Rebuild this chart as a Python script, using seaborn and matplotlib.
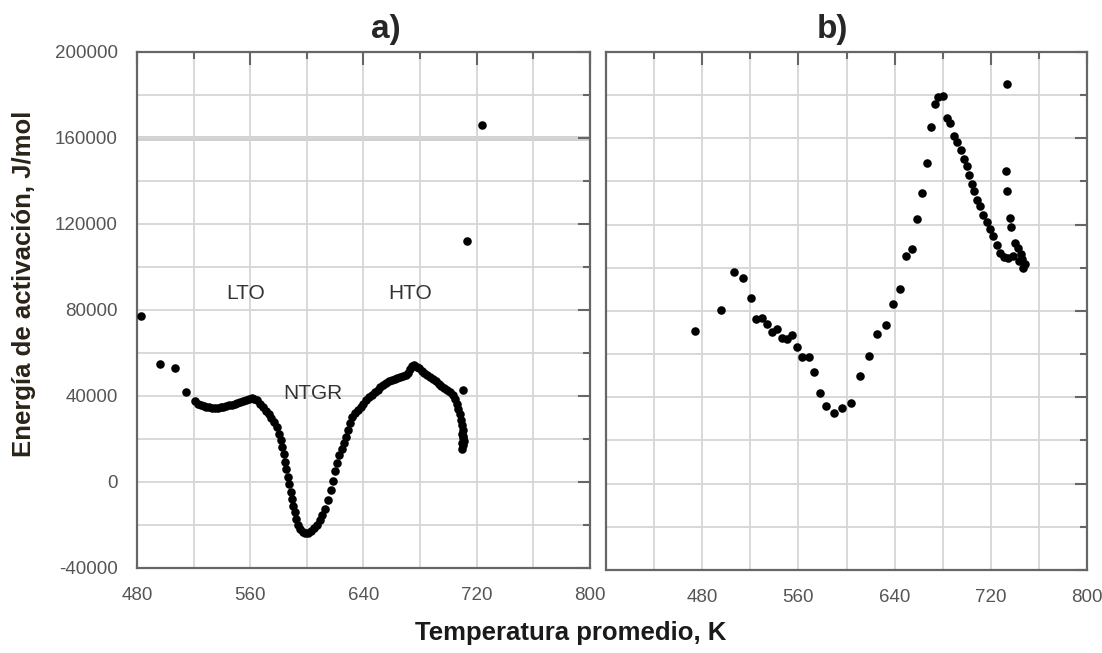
import numpy as np
import pandas as pd
import matplotlib
matplotlib.use("Agg")
from matplotlib import pyplot as plt
from matplotlib.ticker import MultipleLocator, FixedLocator
import seaborn as sns

# panel a) - temperature (K) and activation energy (J/mol)
temp_a = [482.6, 496.5, 506.6, 514.4, 521, 523, 525, 527, 529, 531, 533, 535, 537, 539,
          541, 543, 545, 547, 549, 551, 553, 555, 557, 559, 561, 563, 565, 567, 569,
          571, 573, 575, 577, 579, 580.5, 581.5, 582.5, 583.5, 584.5, 585.5, 586.5,
          587.5, 588.5, 589.5, 590.5, 591.5, 592.5, 594, 595.5, 597, 599, 601, 603,
          605, 607, 609, 611, 613, 615, 617, 618.5, 620, 621.5, 623, 624.5, 626,
          627.5, 629, 630.5, 632, 634, 636, 638, 640, 642, 644, 646, 648, 650, 652,
          654, 656, 658, 660, 662, 664, 666, 668, 670, 671.5, 673, 674.5, 676, 677.5,
          679, 681, 683, 685, 687, 689, 691, 693, 695, 697, 699, 701, 703, 704.5,
          706, 707, 708, 709, 709.8, 710.3, 710.6, 710.7, 710.3, 709.8, 709.5, 710,
          709.3, 710.4, 713.2, 723.8]
ea_a = [77300, 54800, 53100, 42000, 37500, 36500, 35800, 35300, 35000, 34800, 34600,
        34500, 34600, 34800, 35000, 35300, 35600, 36000, 36400, 36800, 37200, 37700,
        38200, 38800, 39200, 38700, 37900, 36500, 35000, 33200, 31500, 29800, 27800,
        25500, 22500, 19500, 16500, 13000, 9500, 6000, 2500, -1000, -4500, -8000,
        -11000, -14000, -17000, -20000, -22000, -23300, -23800, -23500, -22800,
        -21500, -19800, -17800, -15500, -12500, -8500, -3500, 500, 5000, 9000, 12500,
        15500, 18000, 21000, 24000, 27500, 30000, 32000, 33500, 35000, 36500, 38000,
        39300, 40500, 41800, 43000, 44200, 45200, 46000, 46800, 47400, 47900, 48300,
        48700, 49100, 49600, 50500, 52500, 53800, 54300, 53700, 52800, 51800, 50800,
        49800, 48800, 47800, 46800, 45800, 44800, 43800, 42800, 41800, 40300, 38500,
        36500, 34000, 31500, 29000, 26500, 24000, 21500, 19000, 17000, 15500, 18000,
        20500, 22500, 42900, 112200, 166200]

# panel b)
temp_b = [474, 495.4, 506.4, 514.2, 520.2, 524.4, 529.9, 534, 538.2, 542.3, 546.5,
          550.6, 554.8, 558.9, 563.1, 568.6, 572.8, 577.7, 583.2, 589.3, 596.2, 603.7,
          611.4, 618.9, 625.3, 632.7, 638.5, 644.6, 649.3, 654.8, 659, 662.9, 666.7,
          670.3, 673.6, 676.4, 680, 683.3, 686.1, 689.4, 692.2, 694.9, 697.7, 699.9,
          702.1, 704, 706.3, 708.7, 711, 713.7, 716.5, 719.2, 722, 724.8, 727.5, 730.9,
          734.4, 733.6, 732.5, 733.6, 735.8, 737.2, 740, 742.7, 744.7, 746.3, 748.3,
          746.9, 743.6, 738.6]
ea_b = [70600, 80300, 97900, 95200, 86100, 76200, 76700, 73900, 70100, 71700, 67600,
        66800, 68800, 63100, 58800, 58800, 51600, 42000, 36200, 32800, 35000, 37300,
        49700, 59200, 69300, 73400, 83300, 90300, 105700, 108500, 122700, 134600,
        148700, 165200, 176000, 179300, 179800, 169400, 167200, 161100, 158100, 154500,
        150400, 147000, 142900, 138800, 135500, 131600, 128800, 124700, 121400, 118100,
        114800, 110600, 106800, 105200, 104500, 185100, 144900, 135500, 123000, 118900,
        111400, 109000, 106500, 104000, 101900, 99900, 103200, 105700]

x_ticks = [480, 560, 640, 720, 800]

sns.set_style("white")
plt.rcParams['font.family'] = ['Liberation Sans', 'DejaVu Sans']
plt.rcParams['axes.unicode_minus'] = False

fig = plt.figure(figsize=(11.02, 6.53), dpi=100)
ax1 = fig.add_axes([0.1243, 0.1302, 0.4111, 0.7902])
ax2 = fig.add_axes([0.5499, 0.1271, 0.4365, 0.7933])

df_a = pd.DataFrame({"T": temp_a, "Ea": ea_a})
df_b = pd.DataFrame({"T": temp_b, "Ea": ea_b})

for ax, df, xmin in [(ax1, df_a, 480), (ax2, df_b, 400)]:
    ax.set_xlim(xmin, 800)
    ax.set_ylim(-40000, 200000)
    ax.xaxis.set_major_locator(FixedLocator(x_ticks))
    ax.xaxis.set_minor_locator(MultipleLocator(40))
    ax.yaxis.set_major_locator(MultipleLocator(40000))
    ax.yaxis.set_minor_locator(MultipleLocator(20000))
    ax.grid(True, which="both", color="#d6d6d6", lw=1.3, zorder=0)
    ax.set_axisbelow(True)
    sns.scatterplot(data=df, x="T", y="Ea", ax=ax, color="black", s=38,
                    linewidth=0, zorder=3, clip_on=False)
    ax.set_xlabel("")
    ax.set_ylabel("")
    for sp in ax.spines.values():
        sp.set_color("#666666")
        sp.set_linewidth(1.6)
    ax.tick_params(which="both", direction="in", top=True, right=True,
                   color="#666666", width=1.5, labelsize=13.5, labelcolor="#555555")
    ax.tick_params(which="major", length=9, pad=14)
    ax.tick_params(which="minor", length=5)

# right panel has no y labels
ax2.tick_params(axis="y", labelleft=False)
ax1.axhline(160000, color="#cfcfcf", lw=3.5, zorder=0)

ax1.text(557, 87700, "LTO", fontsize=15, color="#333333", ha="center", va="center")
ax1.text(673, 87700, "HTO", fontsize=15, color="#333333", ha="center", va="center")
ax1.text(604, 41200, "NTGR", fontsize=15, color="#333333", ha="center", va="center")

fig.text(0.350, 0.955, "a)", fontsize=24, fontweight="bold", ha="center", va="center")
fig.text(0.755, 0.955, "b)", fontsize=24, fontweight="bold", ha="center", va="center")
fig.text(0.518, 0.03, "Temperatura promedio, K", fontsize=18.5, fontweight="bold",
         ha="center", va="center", color="#1a1a1a")
fig.text(0.022, 0.565, "Energía de activación, J/mol", fontsize=18.5, fontweight="bold",
         ha="center", va="center", rotation=90, color="#2a2318")

fig.savefig("out.png", dpi=100, facecolor="white")
